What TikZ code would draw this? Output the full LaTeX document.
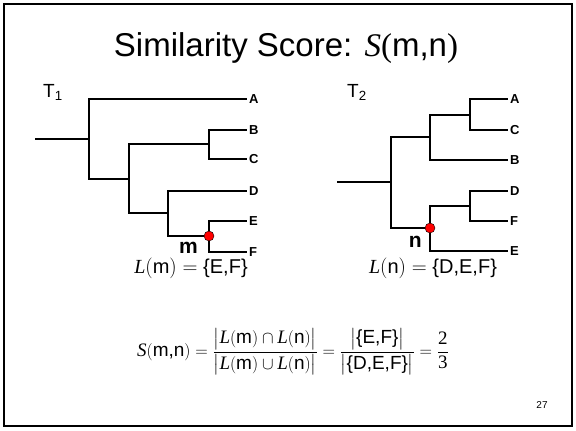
\documentclass[tikz,border=0pt]{standalone}
\usepackage{amsmath}
\usepackage{fontspec}
\setmainfont{Liberation Sans}
\newfontfamily\tms{Liberation Serif}
\usetikzlibrary{positioning,calc}

\newcommand{\simS}{\textit{\tms S}}
\newcommand{\setL}{\textit{\tms L}}

\begin{document}
\begin{tikzpicture}[
    x=1pt, y=-1pt,
    branch/.style={line width=1.1pt},
    stub/.style={line width=2pt},
    leaf/.style={anchor=west, inner sep=2pt, font=\fontsize{13}{14}\selectfont\bfseries},
    hit/.style={circle, fill=red, draw=black, line width=0.4pt, minimum size=10pt, inner sep=0pt},
    treename/.style={anchor=base west, inner sep=0pt, font=\fontsize{19}{22}\selectfont},
    setlabel/.style={anchor=base, inner sep=0pt, font=\fontsize{20}{22}\selectfont},
    nodename/.style={anchor=base east, inner sep=0pt, font=\fontsize{21}{24}\selectfont\bfseries}
]
\useasboundingbox (0,0) rectangle (576,431);

% Slide frame
\draw[line width=2pt] (4,4) rectangle (572,426);

% Title
\node[anchor=base, inner sep=0pt, font=\fontsize{33}{36}\selectfont] (title) at (286,56)
    {Similarity Score: \simS{\tms(}m,n{\tms)}};

% Tree T1
\node[treename] (t1name) at (43,97) {T$_{\text{1}}$};
\coordinate (s1) at (35,139);
\coordinate (r1) at (89,139);
\coordinate (x2) at (129,179);
\coordinate (x3) at (209,144);
\coordinate (x4) at (168,213);
\coordinate (m) at (209,236);
\node[leaf] (A1) at (247,99) {A};
\node[leaf] (B1) at (247,130) {B};
\node[leaf] (C1) at (247,159) {C};
\node[leaf] (D1) at (247,191) {D};
\node[leaf] (E1) at (247,221) {E};
\node[leaf] (F1) at (247,252) {F};

\draw[stub] (s1) -- (r1);
\draw[branch] (r1) |- (A1.west);
\draw[branch] (r1) |- (x2);
\draw[branch] (x2) |- (x3);
\draw[branch] (x2) |- (x4);
\draw[branch] (x3) |- (B1.west);
\draw[branch] (x3) |- (C1.west);
\draw[branch] (x4) |- (D1.west);
\draw[branch] (x4) |- (m);
\draw[branch] (m) |- (E1.west);
\draw[branch] (m) |- (F1.west);
\node[hit] (mdot) at (m) {};
\node[nodename] (mname) at (198,253) {m};
\node[setlabel] (Lm) at (191,273) {$\setL(\text{m}) = \text{\{E,F\}}$};

% Tree T2
\node[treename] (t2name) at (347,97) {T$_{\text{2}}$};
\coordinate (s2) at (337,182);
\coordinate (r2) at (391,182);
\coordinate (y2) at (430,137);
\coordinate (y3) at (470,115);
\coordinate (n) at (430,228);
\coordinate (y4) at (470,206);
\node[leaf] (A2) at (508,99) {A};
\node[leaf] (C2) at (508,130) {C};
\node[leaf] (B2) at (508,160) {B};
\node[leaf] (D2) at (508,191) {D};
\node[leaf] (F2) at (508,221) {F};
\node[leaf] (E2) at (508,251) {E};

\draw[stub] (s2) -- (r2);
\draw[branch] (r2) |- (y2);
\draw[branch] (r2) |- (n);
\draw[branch] (y2) |- (y3);
\draw[branch] (y2) |- (B2.west);
\draw[branch] (y3) |- (A2.west);
\draw[branch] (y3) |- (C2.west);
\draw[branch] (n) |- (y4);
\draw[branch] (n) |- (E2.west);
\draw[branch] (y4) |- (D2.west);
\draw[branch] (y4) |- (F2.west);
\node[hit] (ndot) at (n) {};
\node[nodename] (nname) at (422,247) {n};
\node[setlabel] (Ln) at (433,273) {$\setL(\text{n}) = \text{\{D,E,F\}}$};

% Score formula
\node[inner sep=0pt, font=\fontsize{19}{22}\selectfont] (score) at (293,352)
    {$\simS(\text{m,n}) = \dfrac{\bigl|\setL(\text{m})\cap\setL(\text{n})\bigr|}{\bigl|\setL(\text{m})\cup\setL(\text{n})\bigr|}
      = \dfrac{\bigl|\text{\{E,F\}}\bigr|}{\bigl|\text{\{D,E,F\}}\bigr|}
      = \dfrac{\text{\tms 2}}{\text{\tms 3}}$};

% Page number
\node[anchor=base, inner sep=0pt, font=\fontsize{10}{12}\selectfont] (page) at (542,408) {27};
\end{tikzpicture}
\end{document}
